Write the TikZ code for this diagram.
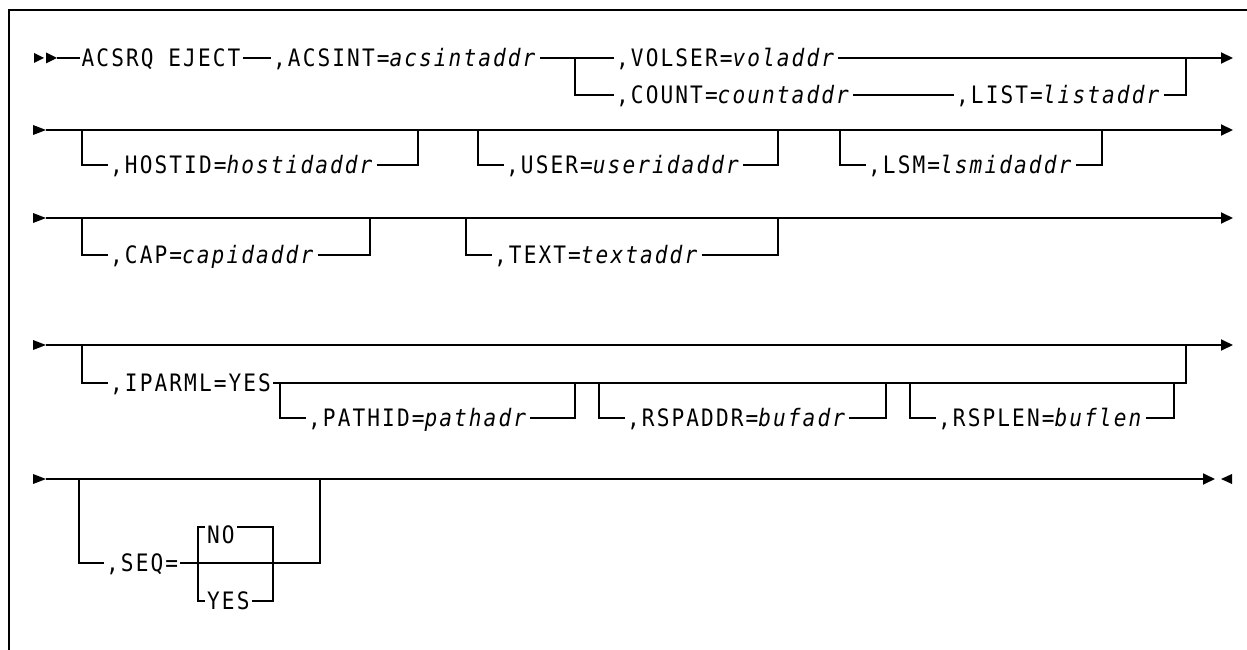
\documentclass[tikz,border=0pt]{standalone}
\usepackage{fontspec}
\newfontfamily\railfont[LetterSpace=8.7,FakeStretch=0.88]{DejaVu Sans Mono}
\usetikzlibrary{arrows.meta}
\begin{document}
\begin{tikzpicture}[x=1pt,y=-1pt,
  rail/.style={line width=1.8pt},
  endarrow/.style={line width=1.8pt,-{Triangle[length=12pt,width=11pt]}},
  kw/.style={anchor=west, inner xsep=2pt, inner ysep=0pt, text height=17.5pt,
             text depth=0pt, font=\fontsize{24}{28}\selectfont\railfont},
  frame/.style={line width=2pt},
  tip/.style={fill=black}]
\useasboundingbox (0,0) rectangle (1247,650);
\draw[frame] (1247,10) -- (9,10) -- (9,651);

% ---------------- Row 1 ----------------
\fill[tip] (34,53) -- (44,58) -- (34,63) -- cycle;
\fill[tip] (46,52.5) -- (57,58) -- (46,63.5) -- cycle;
\coordinate (r1s) at (57,58);
\node[kw] (acsrq) at (79.5,58) {ACSRQ EJECT};
\node[kw] (acsint) at (271,58) {,ACSINT=\textit{acsintaddr}};
\coordinate (r1b) at (575,58);
\coordinate (r1bd) at (575,95);
\node[kw] (volser) at (614,58) {,VOLSER=\textit{voladdr}};
\coordinate (r1e) at (1233,58);
\node[kw] (count) at (614,95) {,COUNT=\textit{countaddr}};
\node[kw] (list) at (954,95) {,LIST=\textit{listaddr}};
\coordinate (r1c) at (1186,95);
\coordinate (r1cu) at (1186,58);
\draw[rail] (r1s) -- (acsrq);
\draw[rail] (acsrq) -- (acsint);
\draw[rail] (acsint) -- (r1b) -- (volser);
\draw[endarrow] (volser) -- (r1e);
\draw[rail] (r1b) -- (r1bd) -- (count);
\draw[rail] (count) -- (list);
\draw[rail] (list) -- (r1c) -- (r1cu);

% ---------------- Row 2 ----------------
\fill[tip] (33,125) -- (46,130) -- (33,135) -- cycle;
\coordinate (r2s) at (46,130);
\coordinate (r2e) at (1233,130);
\draw[endarrow] (r2s) -- (r2e);
% HOSTID
\coordinate (h1) at (82,130); \coordinate (h2) at (82,165);
\node[kw] (hostid) at (108,165) {,HOSTID=\textit{hostidaddr}};
\coordinate (h3) at (418,165); \coordinate (h4) at (418,130);
\draw[rail] (h1) -- (h2) -- (hostid);
\draw[rail] (hostid) -- (h3) -- (h4);
% USER
\coordinate (u1) at (478,130); \coordinate (u2) at (478,165);
\node[kw] (user) at (504,165) {,USER=\textit{useridaddr}};
\coordinate (u3) at (778,165); \coordinate (u4) at (778,130);
\draw[rail] (u1) -- (u2) -- (user);
\draw[rail] (user) -- (u3) -- (u4);
% LSM
\coordinate (l1) at (840,130); \coordinate (l2) at (840,165);
\node[kw] (lsm) at (866,165) {,LSM=\textit{lsmidaddr}};
\coordinate (l3) at (1102,165); \coordinate (l4) at (1102,130);
\draw[rail] (l1) -- (l2) -- (lsm);
\draw[rail] (lsm) -- (l3) -- (l4);

% ---------------- Row 3 ----------------
\fill[tip] (33,213) -- (46,218) -- (33,223) -- cycle;
\coordinate (r3s) at (46,218);
\coordinate (r3e) at (1233,218);
\draw[endarrow] (r3s) -- (r3e);
% CAP
\coordinate (c1) at (82,218); \coordinate (c2) at (82,255);
\node[kw] (cap) at (108,255) {,CAP=\textit{capidaddr}};
\coordinate (c3) at (370,255); \coordinate (c4) at (370,218);
\draw[rail] (c1) -- (c2) -- (cap);
\draw[rail] (cap) -- (c3) -- (c4);
% TEXT
\coordinate (t1) at (466,218); \coordinate (t2) at (466,255);
\node[kw] (text) at (492,255) {,TEXT=\textit{textaddr}};
\coordinate (t3) at (778,255); \coordinate (t4) at (778,218);
\draw[rail] (t1) -- (t2) -- (text);
\draw[rail] (text) -- (t3) -- (t4);

% ---------------- Row 4 ----------------
\fill[tip] (33,340) -- (46,345) -- (33,350) -- cycle;
\coordinate (r4s) at (46,345);
\coordinate (r4e) at (1233,345);
\draw[endarrow] (r4s) -- (r4e);
% IPARML
\coordinate (i1) at (82,345); \coordinate (i2) at (82,383);
\node[kw] (iparml) at (108,383) {,IPARML=YES};
\coordinate (i3) at (1186,383); \coordinate (i4) at (1186,345);
\draw[rail] (i1) -- (i2) -- (iparml);
\draw[rail] (iparml) -- (i3) -- (i4);
% PATHID
\coordinate (p1) at (280,383); \coordinate (p2) at (280,418);
\node[kw] (pathid) at (306,418) {,PATHID=\textit{pathadr}};
\coordinate (p3) at (575,418); \coordinate (p4) at (575,383);
\draw[rail] (p1) -- (p2) -- (pathid);
\draw[rail] (pathid) -- (p3) -- (p4);
% RSPADDR
\coordinate (a1) at (599,383); \coordinate (a2) at (599,418);
\node[kw] (rspaddr) at (625,418) {,RSPADDR=\textit{bufadr}};
\coordinate (a3) at (886,418); \coordinate (a4) at (886,383);
\draw[rail] (a1) -- (a2) -- (rspaddr);
\draw[rail] (rspaddr) -- (a3) -- (a4);
% RSPLEN
\coordinate (n1) at (910,383); \coordinate (n2) at (910,418);
\node[kw] (rsplen) at (936,418) {,RSPLEN=\textit{buflen}};
\coordinate (n3) at (1174,418); \coordinate (n4) at (1174,383);
\draw[rail] (n1) -- (n2) -- (rsplen);
\draw[rail] (rsplen) -- (n3) -- (n4);

% ---------------- Row 5 ----------------
\fill[tip] (33,474) -- (46,479) -- (33,484) -- cycle;
\coordinate (r5s) at (46,479);
\coordinate (r5e) at (1215,479);
\draw[endarrow] (r5s) -- (r5e);
\fill[tip] (1232,474) -- (1221,479) -- (1232,484) -- cycle;
% SEQ
\coordinate (s1) at (79,479); \coordinate (s2) at (79,563);
\node[kw] (seq) at (104,563) {,SEQ=};
\coordinate (s3) at (320,563); \coordinate (s4) at (320,479);
\draw[rail] (s1) -- (s2) -- (seq);
\draw[rail] (seq) -- (s3) -- (s4);
% NO / YES choice
\coordinate (g1) at (198,527); \coordinate (g2) at (198,601);
\coordinate (g3) at (273,527); \coordinate (g4) at (273,601);
\node[kw] (no) at (205,535) {NO};
\node[kw] (yes) at (205,601) {YES};
\draw[rail] (g1 -| no.west) -- (g1) -- (g2) -- (yes);
\draw[rail] (no.east |- g3) -- (g3) -- (g4) -- (yes);
\end{tikzpicture}
\end{document}
